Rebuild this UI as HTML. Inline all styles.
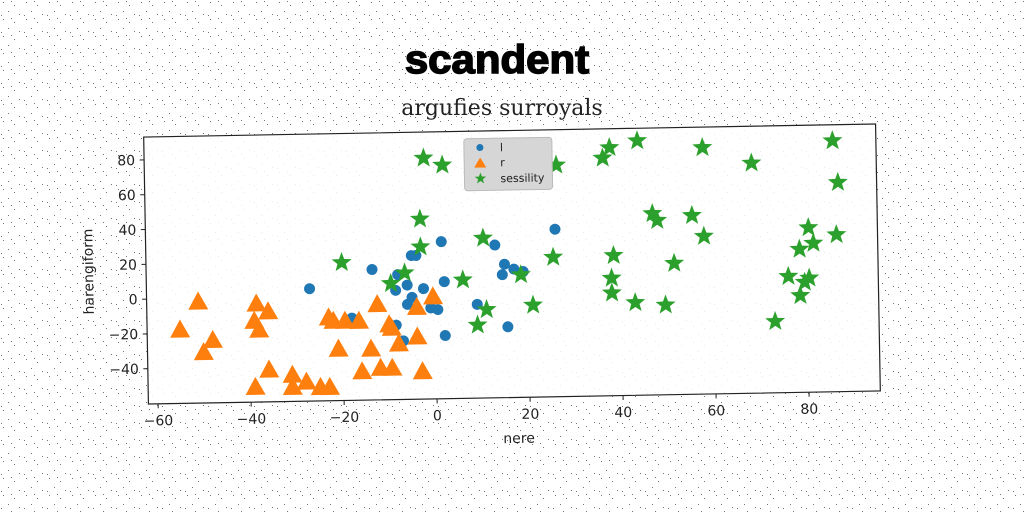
<!DOCTYPE html>
<html><head><meta charset="utf-8"><style>
html,body{margin:0;padding:0;background:#fff;}
svg{display:block;}
text{font-family:"DejaVu Sans","Liberation Sans",sans-serif;}
</style></head><body>
<svg id="chart" width="1024" height="512" viewBox="0 0 1024 512">
<defs>
<pattern id="noise" width="23" height="17" patternUnits="userSpaceOnUse">
<rect x="3" y="2" width="1" height="1" fill="#000"/><rect x="14" y="5" width="1" height="1" fill="#000"/><rect x="8" y="11" width="1" height="1" fill="#000"/><rect x="19" y="14" width="1" height="1" fill="#000"/><rect x="1" y="15" width="1" height="1" fill="#000"/><rect x="11" y="1" width="1" height="1" fill="#000"/>
</pattern>
</defs>
<rect width="1024" height="512" fill="#fff"/>
<rect width="1024" height="512" fill="url(#noise)" opacity="0.55"/>
<text x="497" y="73" text-anchor="middle" font-family="Liberation Sans" font-weight="900" font-size="40" transform="translate(497 0) scale(1.05 1) translate(-497 0)" stroke="#000" stroke-width="1.5" style="font-family:'Liberation Sans',sans-serif">scandent</text>
<text x="502" y="115" text-anchor="middle" font-size="22" style="font-family:'DejaVu Serif',serif" fill="#222">argufies surroyals</text>
<g id="plot" transform="rotate(-1.02 512 264)">
<rect x="146" y="130.5" width="732" height="267" fill="#fff" fill-opacity="0.85" stroke="#222" stroke-width="1.2"/>
<g id="xticks"></g><g id="yticks"></g><g id="marks"></g>
<text x="516" y="443" text-anchor="middle" font-size="14" fill="#222">nere</text>
<text x="93" y="264" text-anchor="middle" font-size="14" fill="#222" transform="rotate(-90 93 264)">harengiform</text>
<g>
<rect x="466" y="138" width="88" height="52" rx="3" fill="#d6d6d6" stroke="#bbb"/>
<circle cx="482" cy="147" r="3.5" fill="#1f77b4"/>
<text x="502" y="151" font-size="11" fill="#222">l</text>
<path d="M482 157 L488 167 L476 167 Z" fill="#ff7f0e"/>
<text x="502" y="166" font-size="11" fill="#222">r</text>
<path id="legstar" fill="#2ca02c"/>
<text x="502" y="182" font-size="11" fill="#222">sessility</text>
</g>
</g>
</svg>
<script>
const xTicks=[-60,-40,-20,0,20,40,60,80];
const yTicks=[-40,-20,0,20,40,60,80];
const lX=[-27,-13.5,-8,-8.5,-6,-5,-6,-5,-4,-2.5,1.5,2,0.5,2,-1,-8.5,-7,-18,9,13,15,14.5,15.5,26,19,17];
const lY=[4.3,14.7,11.5,2.5,5.4,-1.7,-5.7,22.3,22.3,3.2,30,7,-9,-24,-8,-17.5,-26.6,-13,-6.4,27.5,16.4,10.4,-19.6,36,12,13.5];
const rX=[-51,-55,-50,-48,-38.5,-36,-39,-38,-36,-39,-31,-31,-28,-25,-23,-23,-22,-19.5,-16.5,-21,-12.5,-14,-16,-12,-9.5,-10,-8,-4,-3,-4,-0.5,-9.5];
const rY=[-2.5,-18.4,-31.6,-24.7,-4.2,-8.8,-14.1,-19.2,-42.3,-52.1,-45.5,-52.5,-49.6,-52.8,-52.9,-12.9,-14.9,-15,-15.2,-31,-5.8,-31.3,-44.2,-42.4,-42.5,-17.5,-28.6,-24.8,-44.8,-7.8,-1.9,-19.5];
const sX=[-2,2,-3,-3,-20,-6.5,-9.5,6,10.5,11,9,26.5,36.5,38,44,58,68.5,86,87,47,48,55.5,58,80.5,78.5,81.5,86.5,25.5,18.5,21,38.5,38,38,43,49.5,51.5,76,80.5,79.5,78.5,73];
const sY=[78.2,74,43.2,27.2,19,12.4,6.5,7.8,31.6,-9.5,-18.3,72.8,76.4,82.3,86,81.4,72,84,60,44,40,42.5,30.4,34.3,22,25.3,30,19.9,10.2,-7.4,20.3,7.3,-1.2,-7,-8.7,15.2,6.5,5.3,3,-4.6,-19.3];
const NS='http://www.w3.org/2000/svg';
function sx(v){return 434.7+4.65*v;}
function sy(v){return 292.6-1.74*v;}
function mk(t,a){const e=document.createElementNS(NS,t);for(const k in a)e.setAttribute(k,a[k]);return e;}
function starPath(cx,cy,R){const r=R*0.42;let d='';for(let i=0;i<10;i++){const rr=i%2?r:R;const a=-Math.PI/2+i*Math.PI/5;d+=(i?'L':'M')+(cx+rr*Math.cos(a)).toFixed(1)+' '+(cy+rr*Math.sin(a)).toFixed(1);}return d+'Z';}
document.getElementById('legstar').setAttribute('d',starPath(482,178,6));
const xg=document.getElementById('xticks');
xTicks.forEach(v=>{
 const l=mk('line',{x1:sx(v),x2:sx(v),y1:397.5,y2:402,stroke:'#222'});
 
 
 xg.appendChild(l);
 const t=mk('text',{x:sx(v),y:419,'text-anchor':'middle','font-size':'14',fill:'#222'});
 t.textContent=v<0?'\u2212'+(-v):v;
 
 
 xg.appendChild(t);
});
const yg=document.getElementById('yticks');
yTicks.forEach(v=>{
 const l=mk('line',{x1:141.5,x2:146,y1:sy(v),y2:sy(v),stroke:'#222'});
 
 
 yg.appendChild(l);
 const t=mk('text',{x:137,y:sy(v)+5,'text-anchor':'end','font-size':'14',fill:'#222'});
 t.textContent=v<0?'\u2212'+(-v):v;
 
 
 yg.appendChild(t);
});
const mg=document.getElementById('marks');
lX.forEach((x,i)=>{
 const c=mk('circle',{cx:sx(x),cy:sy(lY[i]),r:5.5,fill:'#1f77b4'});
 
 
 mg.appendChild(c);
});
rX.forEach((x,i)=>{
 const cx=sx(x),cy=sy(rY[i]);
 const p=mk('path',{d:`M${cx} ${cy-11}L${cx+10} ${cy+7}L${cx-10} ${cy+7}Z`,fill:'#ff7f0e'});
 
 
 mg.appendChild(p);
});
sX.forEach((x,i)=>{
 const p=mk('path',{d:starPath(sx(x),sy(sY[i]),10.5),fill:'#2ca02c'});
 
 
 mg.appendChild(p);
});
</script>
</body></html>
